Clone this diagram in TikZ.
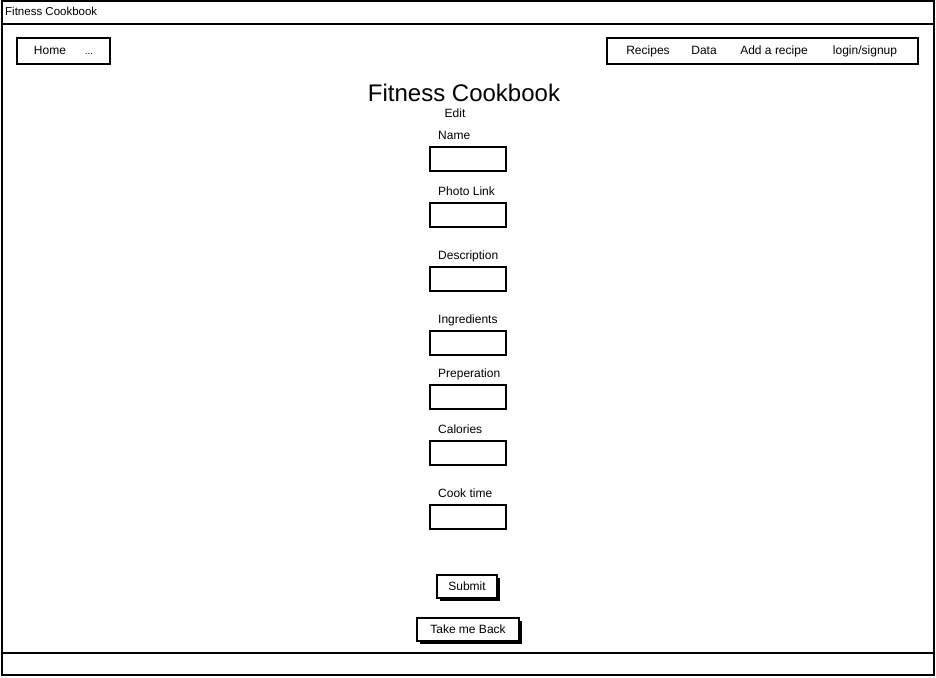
\documentclass[tikz,border=0pt]{standalone}
\usepackage{fontspec}
\setmainfont{Liberation Sans}
\usetikzlibrary{positioning,shadows}

\begin{document}
\begin{tikzpicture}[x=1pt,y=-1pt,
  frame/.style={draw,line width=1.6pt},
  menubox/.style={rectangle,draw,line width=1.6pt,minimum height=26pt,inner sep=0pt},
  field/.style={rectangle,draw,line width=1.6pt,minimum width=76pt,minimum height=24pt,inner sep=0pt},
  caption/.style={anchor=base west,inner sep=0pt,font=\fontsize{12}{14}\selectfont},
  menuitem/.style={anchor=base,inner sep=0pt,font=\fontsize{12}{14}\selectfont},
  button/.style={rectangle,draw,line width=1.2pt,fill=white,inner sep=0pt,
                 minimum height=23pt,font=\fontsize{12}{14}\selectfont,
                 drop shadow={shadow xshift=3pt,shadow yshift=-3pt,opacity=1,fill=black}}]
  \useasboundingbox (0,0) rectangle (936,677);

  % window frame, title bar and footer
  \draw[frame] (2,1) rectangle (934,675);
  \draw[frame] (2,24) -- (934,24);
  \draw[frame] (2,653) -- (934,653);
  \node[menuitem,anchor=base west,font=\fontsize{11.5}{13}\selectfont] (window-title) at (5,16) {Fitness Cookbook};

  % menus
  \node[menubox,minimum width=93pt] (home-menu) at (63.5,51) {};
  \node[menuitem] (home) at (50,55) {Home};
  \node[menuitem] (more) at (89,55) {\fontsize{10}{10}\selectfont ...};
  \node[menubox,minimum width=311pt] (nav-menu) at (762.5,51) {};
  \node[menuitem] (recipes) at (648,55) {Recipes};
  \node[menuitem] (data) at (704,55) {Data};
  \node[menuitem] (add) at (774,55) {Add a recipe};
  \node[menuitem] (login) at (865,55) {login/signup};

  % heading
  \node[inner sep=0pt,anchor=base,font=\fontsize{24}{28}\selectfont] (heading) at (464,101) {Fitness Cookbook};
  \node[menuitem] (edit) at (455,117) {Edit};

  % form
  \foreach \id/\txt/\y in {name/Name/134, photo/Photo Link/190, desc/Description/254,
      ingr/Ingredients/318, prep/Preperation/372, cal/Calories/428, time/Cook time/492} {
    \node[caption] (\id-label) at (438,\y+5) {\txt};
    \node[field] (\id-field) at (468,\y+25) {};
  }

  \node[button,minimum width=60pt] (submit) at (467,586.5) {Submit};
  \node[button,minimum width=102pt] (back) at (468,629.5) {Take me Back};
\end{tikzpicture}
\end{document}
